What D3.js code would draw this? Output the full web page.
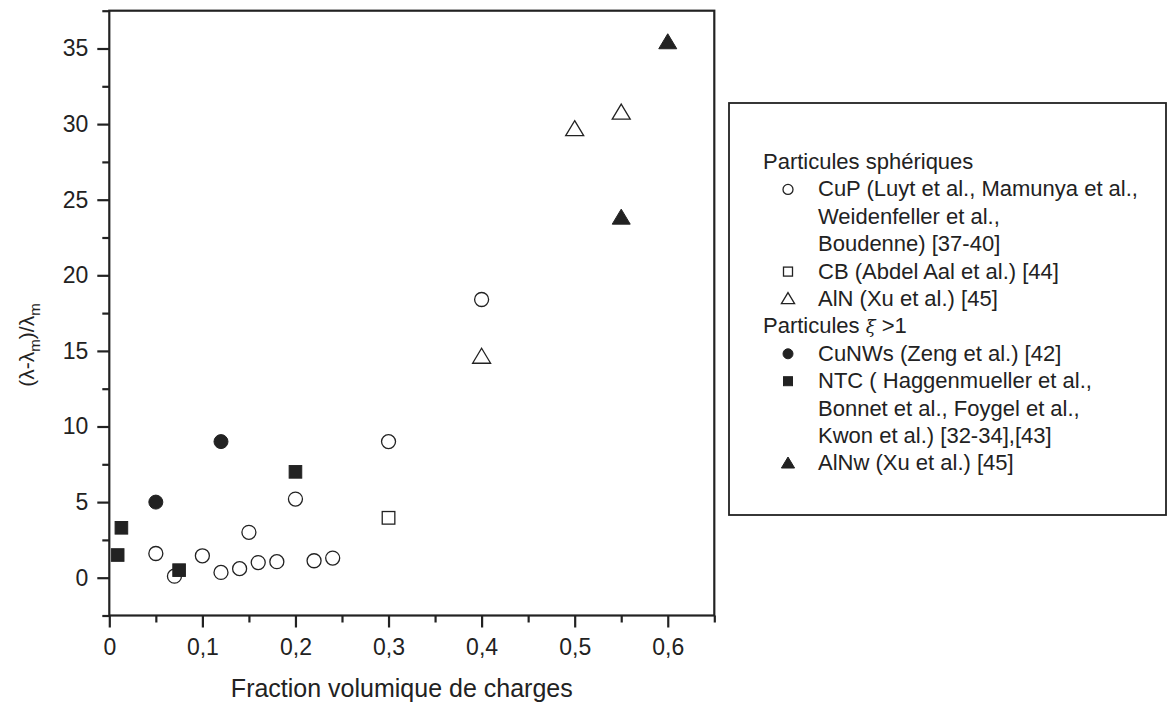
<!DOCTYPE html>
<html><head><meta charset="utf-8">
<script src="https://cdn.jsdelivr.net/npm/d3@7"></script>
<style>body{margin:0;background:#fff}svg{display:block}text{font-family:"Liberation Sans",Arial,sans-serif;fill:#222}</style>
</head><body><svg id="c" width="1168" height="709"></svg>
<script>
const xTicks = [0,0.1,0.2,0.3,0.4,0.5,0.6];
const xTickLabels = ["0","0,1","0,2","0,3","0,4","0,5","0,6"];
const yTicks = [0,5,10,15,20,25,30,35];
const cuP = [[0.05,1.6],[0.07,0.1],[0.10,1.45],[0.12,0.35],[0.14,0.6],[0.15,3.0],[0.16,1.0],[0.18,1.06],[0.20,5.2],[0.22,1.12],[0.24,1.3],[0.30,9.0],[0.40,18.4]];
const cb = [[0.30,3.96]];
const aln = [[0.40,14.6],[0.50,29.65],[0.55,30.75]];
const cuNWs = [[0.05,5.0],[0.12,9.0]];
const ntc = [[0.009,1.5],[0.013,3.3],[0.075,0.5],[0.20,7.0]];
const alnw = [[0.55,23.8],[0.60,35.4]];
const legendLines = [
  {t:"Particules sphériques", m:null, indent:false},
  {t:"CuP (Luyt et al., Mamunya et al.,", m:"circleOpen"},
  {t:"Weidenfeller et al.,", m:null},
  {t:"Boudenne) [37-40]", m:null},
  {t:"CB (Abdel Aal et al.) [44]", m:"squareOpen"},
  {t:"AlN (Xu et al.) [45]", m:"triangleOpen"},
  {t:"Particules ξ >1", m:null, indent:false, xi:true},
  {t:"CuNWs (Zeng et al.) [42]", m:"circleFilled"},
  {t:"NTC ( Haggenmueller et al.,", m:"squareFilled"},
  {t:"Bonnet et al., Foygel et al.,", m:null},
  {t:"Kwon et al.) [32-34],[43]", m:null},
  {t:"AlNw (Xu et al.) [45]", m:"triangleFilled"}
];

const svg = d3.select("#c");
const L=109.3, R=714.3, T=10.7, B=615.5;
const x = d3.scaleLinear().domain([0,0.65]).range([L,R]);
const y = d3.scaleLinear().domain([-2.5,37.5]).range([B,T]);
const ink="#222";

// frame
svg.append("rect").attr("x",L).attr("y",T).attr("width",R-L).attr("height",B-T)
  .attr("fill","none").attr("stroke",ink).attr("stroke-width",2.2);

// axes
const xMinor = d3.range(0.05,0.66,0.1);
const yMinor = d3.range(-2.5,37.6,5);
const gx = svg.append("g").attr("transform",`translate(0,${B})`);
gx.call(d3.axisBottom(x).tickValues(xMinor).tickSize(7).tickFormat(""));
const gx2 = svg.append("g").attr("transform",`translate(0,${B})`);
gx2.call(d3.axisBottom(x).tickValues(xTicks).tickSize(12).tickPadding(11).tickFormat((d,i)=>xTickLabels[i]));
const gy = svg.append("g").attr("transform",`translate(${L},0)`);
gy.call(d3.axisLeft(y).tickValues(yMinor).tickSize(7).tickFormat(""));
const gy2 = svg.append("g").attr("transform",`translate(${L},0)`);
gy2.call(d3.axisLeft(y).tickValues(yTicks).tickSize(12).tickPadding(9));
svg.selectAll(".domain").remove();
svg.selectAll(".tick line").attr("stroke",ink).attr("stroke-width",2.2);
svg.selectAll("g").attr("font-family",null).attr("font-size",null);
svg.selectAll(".tick text").attr("font-size","23px").style("font-size","23px").attr("fill","#222");

// axis labels
svg.append("text").attr("x",(L+R)/2-10).attr("y",697).attr("text-anchor","middle")
  .style("font-size","25px").text("Fraction volumique de charges");
const yl = svg.append("text").attr("transform","translate(34,345) rotate(-90)").attr("text-anchor","middle").style("font-size","21px");
yl.append("tspan").text("(λ-λ");
yl.append("tspan").attr("dy",6).style("font-size","15px").text("m");
yl.append("tspan").attr("dy",-6).text(")/λ");
yl.append("tspan").attr("dy",6).style("font-size","15px").text("m");

// markers
function marker(g, type, cx, cy, s){
  const open = type.endsWith("Open");
  const fill = open ? "#fff" : ink;
  let el;
  if(type.startsWith("circle")) el = g.append("circle").attr("cx",cx).attr("cy",cy).attr("r",s/2);
  else if(type.startsWith("square")) el = g.append("rect").attr("x",cx-s*0.45).attr("y",cy-s*0.45).attr("width",s*0.9).attr("height",s*0.9);
  else el = g.append("path").attr("d",`M${cx},${cy-s*0.58}L${cx+s*0.6},${cy+s*0.42}L${cx-s*0.6},${cy+s*0.42}Z`);
  el.attr("fill",fill).attr("stroke",ink).attr("stroke-width",open?1.3:1);
}
const series = [[cuP,"circleOpen"],[cb,"squareOpen"],[aln,"triangleOpen"],[cuNWs,"circleFilled"],[ntc,"squareFilled"],[alnw,"triangleFilled"]];
const gm = svg.append("g");
series.forEach(([data,type])=>data.forEach(d=>marker(gm,type,x(d[0]),y(d[1]),type.startsWith("triangle")?15:14)));

// legend
svg.append("rect").attr("x",729).attr("y",103).attr("width",437).attr("height",412)
  .attr("fill","none").attr("stroke",ink).attr("stroke-width",1.8);
const lg = svg.append("g");
legendLines.forEach((l,i)=>{
  const yy = 169 + i*27.4;
  const indented = l.indent!==false;
  const t = lg.append("text").attr("x", indented?818:763).attr("y",yy).style("font-size","22px");
  if(l.xi){
    t.append("tspan").text("Particules ");
    t.append("tspan").style("font-style","italic").style("font-family","'DejaVu Serif',serif").style("font-size","18px").text("ξ");
    t.append("tspan").text(" >1");
  } else t.text(l.t);
  if(l.m) marker(lg,l.m,788,yy-7,l.m.startsWith("triangle")?11:10);
});
</script></body></html>
